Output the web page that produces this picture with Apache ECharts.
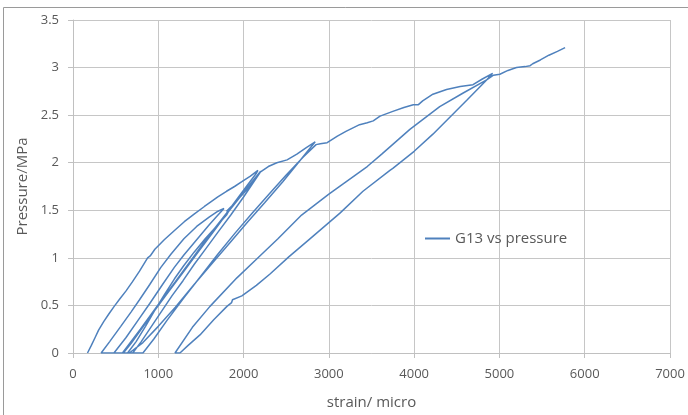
<!DOCTYPE html>
<html>
<head>
<meta charset="utf-8">
<script src="https://cdn.jsdelivr.net/npm/echarts@6/dist/echarts.min.js"></script>
<style>
  html, body { margin: 0; padding: 0; background: #fff; overflow: hidden; }
  #chart { position: absolute; left: 0; top: 0; width: 688px; height: 415px; }
</style>
</head>
<body>
<div id="chart"></div>
<script>
// strain (micro) / pressure (MPa), in test order
var loadA = [[170,0],[215,0.08],[258,0.16],[300,0.24],[360,0.33],[420,0.41],[483,0.49],[550,0.57],[620,0.65],[698,0.75],[780,0.86],[875,1.0],[890,0.99],[905,1.02],[960,1.09],[1070,1.19],[1180,1.28],[1305,1.38],[1420,1.46],[1541,1.54],[1620,1.59],[1698,1.64],[1800,1.7],[1894,1.75],[1980,1.8],[2080,1.86],[2168,1.92],[2190,1.93]];
var unloadA = [[2150,1.89],[2000,1.71],[1800,1.47],[1600,1.24],[1404,1.0],[1200,0.75],[992,0.5],[790,0.25],[580,0],[450,0],[330,0]];
var loadB = [[430,0.12],[560,0.28],[680,0.43],[780,0.56],[900,0.72],[1030,0.9],[1150,1.04],[1300,1.2],[1450,1.33],[1600,1.43],[1700,1.49],[1770,1.52]];
var unloadB = [[1700,1.45],[1600,1.35],[1450,1.19],[1300,1.03],[1188,0.9],[1050,0.72],[900,0.52],[760,0.34],[620,0.16],[480,0],[820,0],[640,0]];
var loadC = [[740,0.12],[850,0.28],[960,0.45],[1070,0.61],[1190,0.78],[1300,0.92],[1420,1.06],[1550,1.2],[1680,1.33],[1800,1.45],[1830,1.5],[1800,1.49],[1900,1.58],[2000,1.68],[2100,1.78],[2200,1.91]];
var unloadC = [[2100,1.8],[1950,1.63],[1800,1.46],[1650,1.28],[1500,1.1],[1300,0.86],[1100,0.62],[953,0.44],[800,0.25],[680,0.1],[590,0],[700,0]];
var loadD = [[800,0.12],[920,0.28],[1040,0.44],[1160,0.6],[1290,0.76],[1420,0.93],[1560,1.1],[1700,1.27],[1850,1.45],[2000,1.64],[2120,1.8],[2195,1.9],[2290,1.96],[2390,2.0],[2510,2.03],[2625,2.09],[2740,2.16],[2840,2.22]];
var unloadD = [[2660,2.02],[2460,1.8],[2247,1.58],[2050,1.38],[1850,1.17],[1640,0.95],[1420,0.72],[1200,0.48],[1000,0.28],[820,0.11],[660,0],[820,0]];
var loadE = [[950,0.15],[1100,0.34],[1300,0.58],[1500,0.81],[1700,1.04],[1900,1.26],[2100,1.47],[2300,1.67],[2500,1.87],[2700,2.06],[2850,2.19],[2900,2.2],[2980,2.21],[3100,2.28],[3200,2.33],[3360,2.4],[3450,2.42],[3520,2.44],[3600,2.49],[3750,2.54],[3880,2.58],[3990,2.61],[4050,2.61],[4100,2.65],[4220,2.72],[4380,2.77],[4540,2.8],[4690,2.82],[4800,2.88],[4920,2.94]];
var unloadE = [[4850,2.87],[4570,2.73],[4300,2.59],[3950,2.35],[3620,2.09],[3450,1.96],[3000,1.67],[2680,1.45],[2403,1.2],[2157,0.99],[1922,0.79],[1606,0.49],[1400,0.27],[1196,0],[1254,0]];
var loadF = [[1350,0.08],[1489,0.19],[1650,0.35],[1805,0.49],[1860,0.53],[1870,0.56],[1980,0.6],[2150,0.71],[2310,0.83],[2530,1.01],[2778,1.2],[3130,1.47],[3400,1.7],[3716,1.92],[3735,1.9],[3750,1.94],[4000,2.12],[4220,2.3],[4620,2.66],[4850,2.87],[4930,2.92],[5005,2.93],[5100,2.97],[5200,3.0],[5300,3.01],[5360,3.02],[5375,3.0],[5390,3.04],[5480,3.08],[5580,3.13],[5680,3.17],[5770,3.21]];

var seriesName = 'G13 vs pressure';
var g13 = [].concat(loadA, unloadA, loadB, unloadB, loadC, unloadC, loadD, unloadD, loadE, unloadE, loadF);

var myChart = echarts.init(document.getElementById('chart'));
var txt = '#595959';
var font = '"Open Sans", sans-serif';

myChart.setOption({
  animation: false,
  // chart-area frame (top and left edges visible in the picture)
  graphic: [
    { type: 'polyline', silent: true, z: 100,
      shape: { points: [[3.5, 415], [3.5, 7.5], [688, 7.5]] },
      style: { stroke: '#9a9a9a', lineWidth: 1, fill: null } }
  ],
  grid: { left: 73, right: 18, top: 20, bottom: 60 },
  legend: {
    data: [seriesName],
    left: 420, top: 226,
    icon: 'rect', itemWidth: 25, itemHeight: 2, itemGap: 6,
    textStyle: { color: txt, fontSize: 15, fontFamily: font }
  },
  xAxis: {
    type: 'value', min: 0, max: 7000, interval: 1000,
    name: 'strain/ micro', nameLocation: 'middle', nameGap: 42,
    nameTextStyle: { color: txt, fontSize: 15, fontFamily: font },
    axisLine: { show: true, lineStyle: { color: '#c0c0c0' } },
    axisTick: { show: true, length: 5, lineStyle: { color: '#c0c0c0' } },
    axisLabel: { color: txt, fontSize: 13, fontFamily: font, margin: 15,
                 formatter: function (v) { return String(v); } },
    splitLine: { show: true, lineStyle: { color: '#c6c6c6' } }
  },
  yAxis: {
    type: 'value', min: 0, max: 3.5, interval: 0.5,
    name: 'Pressure/MPa', nameLocation: 'middle', nameGap: 34,
    nameTextStyle: { color: txt, fontSize: 15, fontFamily: font },
    axisLine: { show: true, lineStyle: { color: '#c0c0c0' } },
    axisTick: { show: true, length: 5, lineStyle: { color: '#c0c0c0' } },
    axisLabel: { color: txt, fontSize: 13, fontFamily: font, margin: 14 },
    splitLine: { show: true, lineStyle: { color: '#c6c6c6' } }
  },
  series: [{
    name: seriesName,
    type: 'line',
    data: g13,
    showSymbol: false,
    symbol: 'none',
    color: '#4f81bd',
    lineStyle: { width: 1.5, color: '#4f81bd' }
  }]
});
</script>
</body>
</html>
